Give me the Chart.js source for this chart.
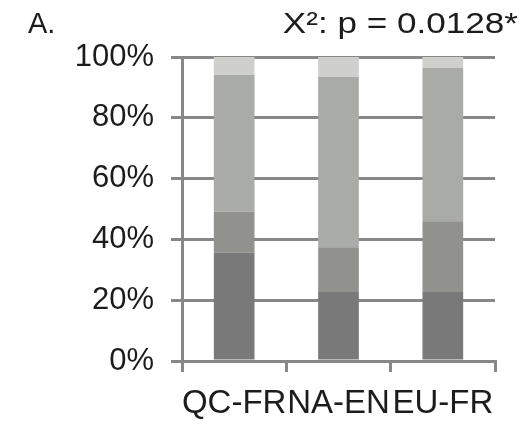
<!DOCTYPE html>
<html>
<head>
<meta charset="utf-8">
<script src="https://cdn.jsdelivr.net/npm/chart.js@4.4.1/dist/chart.umd.min.js"></script>
<style>
  html, body { margin: 0; padding: 0; background: #ffffff; }
  #wrap { width: 526px; height: 425px; }
</style>
</head>
<body>
<div id="wrap"><canvas id="c" width="526" height="425"></canvas></div>
<script>
// Groups and stacked shares (percent of responses per group)
const categories = ['QC-FR', 'NA-EN', 'EU-FR'];
const level1 = [35.6, 22.7, 22.7];
const level2 = [13.5, 14.7, 23.3];
const level3 = [45.1, 56.1, 50.4];
const level4 = [5.8, 6.5, 3.6];
const yTicks = [0, 20, 40, 60, 80, 100];
const panelLabel = 'A.';
const testLabel = 'X²: p = 0.0128*';

const FONT = '"Liberation Sans", Arial, sans-serif';
const TEXT = '#1c1c1c';
const AXIS = '#878787';

// Panel letter and test result above the plot
const headerText = {
  id: 'headerText',
  afterDraw(chart) {
    const ctx = chart.ctx;
    ctx.save();
    ctx.fillStyle = TEXT;
    ctx.font = '29px ' + FONT;
    ctx.textBaseline = 'alphabetic';
    ctx.textAlign = 'left';
    ctx.fillText(panelLabel, 28, 33);
    ctx.font = '30px ' + FONT;
    ctx.translate(518, 33);
    ctx.scale(1.17, 1);
    ctx.textAlign = 'right';
    ctx.fillText(testLabel, 0, 0);
    ctx.restore();
  }
};

const seg = (data, color) => ({
  data, backgroundColor: color, borderWidth: 0,
  barPercentage: 0.39, categoryPercentage: 1.0
});

new Chart(document.getElementById('c'), {
  type: 'bar',
  data: {
    labels: categories,
    datasets: [
      seg(level1, '#797979'),
      seg(level2, '#91928e'),
      seg(level3, '#a9aba7'),
      seg(level4, '#cfd0cc')
    ]
  },
  options: {
    responsive: false,
    animation: false,
    layout: { padding: { left: 0, right: 31, top: 57, bottom: 0 } },
    plugins: { legend: { display: false }, tooltip: { enabled: false } },
    scales: {
      x: {
        stacked: true,
        grid: { display: true, drawOnChartArea: false, drawTicks: true, tickLength: 11, color: AXIS, lineWidth: 3, offset: true },
        border: { display: true, color: AXIS, width: 3 },
        ticks: { color: TEXT, font: { family: FONT, size: 33 }, autoSkip: false, maxRotation: 0, minRotation: 0, padding: 12 },
        afterFit(scale) { scale.height = 64; }
      },
      y: {
        stacked: true,
        min: 0, max: 100,
        afterBuildTicks(scale) { scale.ticks = yTicks.map(v => ({ value: v })); },
        grid: { color: AXIS, lineWidth: 3, tickLength: 11 },
        border: { display: true, color: AXIS, width: 3 },
        ticks: { color: TEXT, font: { family: FONT, size: 31 }, padding: 17, callback: v => v + '%' },
        afterFit(scale) { scale.width = 182; }
      }
    }
  },
  plugins: [headerText]
});
</script>
</body>
</html>
